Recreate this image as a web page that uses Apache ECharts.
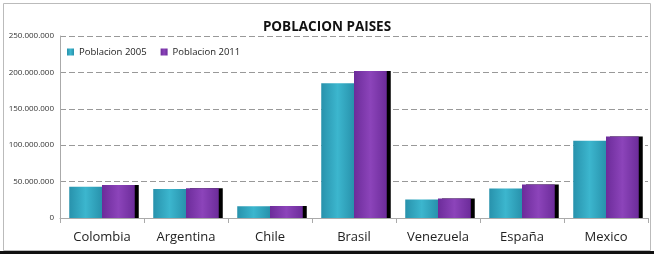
<!DOCTYPE html>
<html>
<head>
<meta charset="utf-8">
<script src="https://cdn.jsdelivr.net/npm/echarts@6/dist/echarts.min.js"></script>
<style>html,body{margin:0;padding:0;background:#fff;}#c{width:654px;height:254px;}</style>
</head>
<body>
<div id="c"></div>
<script>
const categories = ['Colombia','Argentina','Chile','Brasil','Venezuela','España','Mexico'];
const pob2005 = [43000000, 39800000, 16000000, 185000000, 25500000, 40500000, 106000000];
const pob2011 = [45500000, 41000000, 16500000, 202000000, 26800000, 46000000, 112000000];
const yTicks = [0, 50000000, 100000000, 150000000, 200000000, 250000000];

const chart = echarts.init(document.getElementById('c'));
function fmt(v){ return String(v).replace(/\B(?=(\d{3})+(?!\d))/g, '.'); }
function grad(c1, c2){
  return new echarts.graphic.LinearGradient(0,0,1,0,[{offset:0,color:c1},{offset:0.5,color:c2},{offset:1,color:c1}]);
}
chart.setOption({
  animation:false,
  backgroundColor:'#fff',
  title:{text:'POBLACION PAISES',left:'center',top:15,textStyle:{fontFamily:'Open Sans',fontWeight:'bold',fontSize:13.5,color:'#111'}},
  legend:{left:62,top:42,itemWidth:7,itemHeight:7,itemGap:14,icon:'rect',textStyle:{fontFamily:'Open Sans',fontSize:9.5,color:'#222'},
    data:['Poblacion 2005','Poblacion 2011']},
  grid:{left:60,right:6,top:36,bottom:36},
  xAxis:{type:'category',data:categories,
    axisLine:{lineStyle:{color:'#aaa'}},
    axisTick:{show:true,length:5,lineStyle:{color:'#aaa'}},
    axisLabel:{fontFamily:'Open Sans',fontSize:13,color:'#222',margin:13}},
  yAxis:{type:'value',min:yTicks[0],max:yTicks[yTicks.length-1],interval:yTicks[1]-yTicks[0],
    axisLine:{show:true,lineStyle:{color:'#aaa'}},
    axisTick:{show:false},
    axisLabel:{fontFamily:'Open Sans',fontSize:8,color:'#333',margin:6,formatter:function(v){return fmt(v);}},
    splitLine:{lineStyle:{color:'#999',type:[6,3]}}},
  series:[
    {name:'Poblacion 2005',type:'bar',data:pob2005,barGap:'0%',barCategoryGap:'22%',
      itemStyle:{color:grad('#2892ac','#3cb6ce')}},
    {name:'Poblacion 2011',type:'bar',data:pob2011,
      itemStyle:{color:grad('#6c2c9a','#8c44ba'),shadowColor:'#000',shadowBlur:0,shadowOffsetX:4,shadowOffsetY:0}}
  ],
  color:['#2fa4bf','#7b35a8'],
  graphic:[
    {type:'rect',shape:{x:3.5,y:3.5,width:647,height:247},style:{fill:'none',stroke:'#bbb',lineWidth:1},silent:true,z:-1},
    {type:'rect',shape:{x:0,y:251,width:654,height:3},style:{fill:'#111'},silent:true}
  ]
});
</script>
</body>
</html>
